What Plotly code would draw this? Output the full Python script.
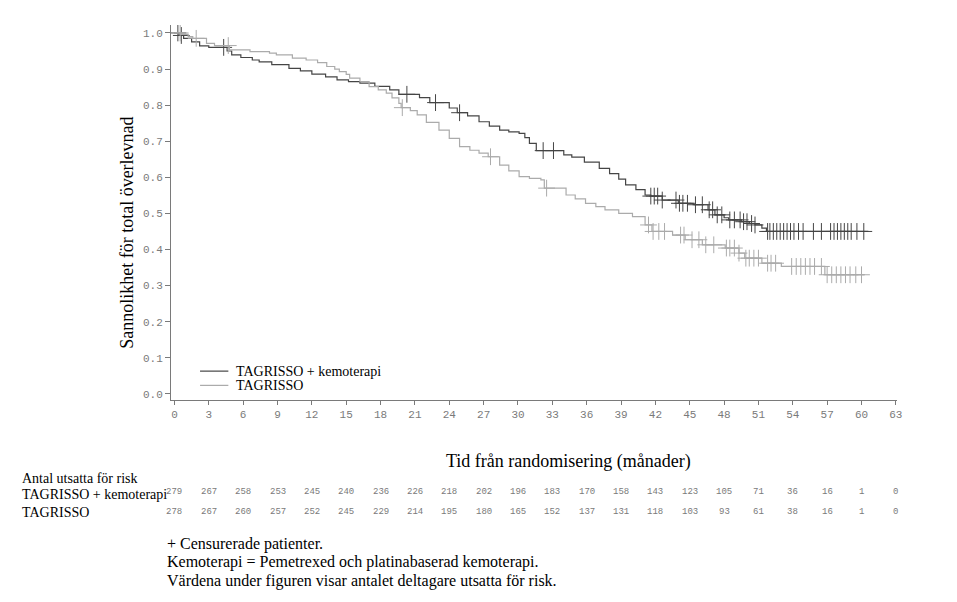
import numpy as np
import plotly.graph_objects as go

# ===============================
# DATA
# ===============================
COMBO = "TAGRISSO + kemoterapi"
MONO = "TAGRISSO"

combo_t = [0, 0.4, 0.8, 1.5, 2.2, 3.0, 4.6, 5.0, 5.8, 6.8, 7.4, 8.5, 10.0, 11.0,
           12.0, 13.2, 14.2, 15.2, 16.2, 17.5, 18.8, 19.6, 21.4, 22.3, 24.0, 24.7,
           25.6, 26.6, 27.5, 28.4, 29.2, 30.1, 30.6, 31.0, 31.6, 34.0, 34.7, 35.8,
           37.1, 38.0, 38.8, 39.4, 40.3, 41.1, 41.6, 42.6, 44.0, 45.3, 46.6, 47.2,
           48.0, 48.4, 49.5, 50.2, 50.7, 51.3, 51.7, 60.6]
combo_s = [1.0, 0.993, 0.985, 0.975, 0.964, 0.960, 0.950, 0.939, 0.932, 0.925,
           0.920, 0.912, 0.902, 0.895, 0.886, 0.878, 0.870, 0.865, 0.861, 0.852,
           0.842, 0.830, 0.821, 0.807, 0.792, 0.779, 0.770, 0.754, 0.742, 0.731,
           0.726, 0.722, 0.710, 0.694, 0.674, 0.662, 0.656, 0.642, 0.625, 0.610,
           0.595, 0.579, 0.566, 0.551, 0.548, 0.537, 0.528, 0.524, 0.510, 0.496,
           0.488, 0.482, 0.477, 0.472, 0.468, 0.459, 0.450, 0.450]

mono_t = [0, 0.6, 1.2, 1.6, 2.8, 3.5, 4.8, 6.6, 8.3, 8.9, 10.3, 11.5, 12.5, 13.3,
          14.0, 14.4, 15.0, 15.3, 16.2, 17.0, 17.8, 18.5, 19.0, 19.6, 19.8, 20.6,
          21.2, 22.0, 23.1, 24.0, 24.9, 25.8, 26.6, 27.4, 28.4, 29.2, 30.1, 31.0,
          32.0, 32.3, 34.2, 35.0, 35.9, 36.8, 37.6, 38.8, 40.0, 41.1, 41.7, 43.5,
          44.6, 46.1, 48.1, 49.3, 49.8, 51.3, 53.0, 56.8, 60.3]
mono_s = [1.0, 0.996, 0.990, 0.985, 0.971, 0.965, 0.953, 0.948, 0.944, 0.939,
          0.930, 0.925, 0.918, 0.907, 0.900, 0.893, 0.885, 0.875, 0.865, 0.851,
          0.842, 0.833, 0.820, 0.805, 0.793, 0.785, 0.773, 0.752, 0.731, 0.708,
          0.685, 0.675, 0.667, 0.657, 0.634, 0.618, 0.602, 0.597, 0.593, 0.570,
          0.551, 0.540, 0.528, 0.519, 0.510, 0.500, 0.491, 0.468, 0.450, 0.440,
          0.427, 0.413, 0.404, 0.390, 0.376, 0.362, 0.353, 0.330, 0.330]

# censoring times (months)
combo_cens = [0.3, 0.6, 4.3, 20.3, 22.8, 24.9, 32.2, 33.1,
              41.6, 41.9, 42.2, 42.6, 43.8, 44.1, 44.4, 44.8, 45.5, 46.1,
              46.7, 47.0, 47.4, 47.8, 48.5, 48.9, 49.4, 49.7, 50.0, 50.4, 50.7,
              51.8, 52.0, 52.3, 52.6, 52.9, 53.2, 53.5, 53.8, 54.1, 54.5, 54.9,
              55.8, 56.5, 57.3, 57.6, 57.9, 58.2, 58.5, 58.8, 59.1, 59.6, 60.2]
mono_cens = [0.5, 1.9, 4.7, 19.9, 27.6, 32.5,
             41.4, 41.8, 42.3, 42.8, 44.2, 44.5, 45.2, 45.8, 46.4, 47.1,
             48.2, 48.5, 48.9, 49.3, 49.9, 50.2, 50.6, 51.0, 51.8, 52.1, 52.5,
             53.9, 54.3, 54.7, 55.1, 55.5, 55.9, 56.5, 57.0, 57.4, 57.8, 58.2,
             58.6, 59.0, 59.5, 60.0]

risk_months = list(range(0, 64, 3))
combo_risk = [279, 267, 258, 253, 245, 240, 236, 226, 218, 202, 196, 183, 170,
              158, 143, 123, 105, 71, 36, 16, 1, 0]
mono_risk = [278, 267, 260, 257, 252, 245, 229, 214, 195, 180, 165, 152, 137,
             131, 118, 103, 93, 61, 38, 16, 1, 0]

DARK = "#454545"
LIGHT = "#ababab"
TICK_GREY = "#7a7a7a"
SERIF = "Liberation Serif, Times New Roman, serif"
MONO_FONT = "Liberation Mono, Courier New, monospace"


def step_value(times, surv, at):
    idx = np.searchsorted(np.array(times), np.array(at), side="right") - 1
    return np.array(surv)[idx]


def note(fig, txt, x, y, size, anchor="left", color="black", family=SERIF, angle=0):
    fig.add_annotation(x=x, y=y, xref="paper", yref="paper", text=txt,
                       showarrow=False, xanchor=anchor, yanchor="middle",
                       textangle=angle,
                       font=dict(family=family, size=size, color=color))


# ===============================
# FIGURE
# ===============================
fig = go.Figure()

for name, t, s, cens, col in [(COMBO, combo_t, combo_s, combo_cens, DARK),
                              (MONO, mono_t, mono_s, mono_cens, LIGHT)]:
    fig.add_trace(go.Scatter(
        x=t, y=s, mode="lines", name=name, showlegend=False,
        line=dict(color=col, width=1.2, shape="hv"),
    ))
    fig.add_trace(go.Scatter(
        x=cens, y=step_value(t, s, cens), mode="markers", showlegend=False,
        marker=dict(symbol="cross-thin", size=12, line=dict(color=col, width=1)),
    ))

# legend, drawn by hand to get the tight row spacing
for i, (name, col) in enumerate([(COMBO, DARK), (MONO, LIGHT)]):
    ly = 0.077 - i * 0.038
    fig.add_shape(type="line", xref="paper", yref="paper",
                  x0=0.040, x1=0.079, y0=ly, y1=ly,
                  line=dict(color=col, width=1.2))
    note(fig, name, 0.087, ly, 14)

# risk table numbers under the ticks
for vals, ypos in [(combo_risk, -0.245), (mono_risk, -0.299)]:
    for m, v in zip(risk_months, vals):
        fig.add_annotation(x=m, y=ypos, xref="x", yref="paper", text=str(v),
                           showarrow=False, xanchor="center", yanchor="middle",
                           font=dict(family=MONO_FONT, size=9, color=TICK_GREY))

note(fig, "Antal utsatta för risk", -0.208, -0.208, 14)
note(fig, COMBO, -0.208, -0.251, 14)
note(fig, MONO, -0.208, -0.299, 14)

note(fig, "Tid från randomisering (månader)", 0.547, -0.165, 18, anchor="center")
note(fig, "Sannolikhet för total överlevnad", -0.061, 0.445, 18,
     anchor="center", angle=-90)

notes = ["+ Censurerade patienter.",
         "Kemoterapi = Pemetrexed och platinabaserad kemoterapi.",
         "Värdena under figuren visar antalet deltagare utsatta för risk."]
for i, txt in enumerate(notes):
    note(fig, txt, -0.008, -0.384 - i * 0.049, 16)

fig.update_layout(
    width=957, height=602,
    margin=dict(l=163, r=68, t=17, b=210),
    plot_bgcolor="white", paper_bgcolor="white",
    showlegend=False,
    xaxis=dict(range=[-0.3, 63.1], tickvals=risk_months, ticks="outside",
               ticklen=4, tickcolor=TICK_GREY, showgrid=False, zeroline=False,
               showline=True, linecolor=TICK_GREY, linewidth=1,
               tickfont=dict(family=MONO_FONT, size=11, color=TICK_GREY)),
    yaxis=dict(range=[-0.017, 1.022], tickvals=[i / 10 for i in range(11)],
               tickformat=".1f", ticks="outside", ticklen=5,
               tickcolor=TICK_GREY, showgrid=False, zeroline=False,
               showline=True, linecolor=TICK_GREY, linewidth=1,
               tickfont=dict(family=MONO_FONT, size=11, color=TICK_GREY)),
)

fig.write_html("out.html")
